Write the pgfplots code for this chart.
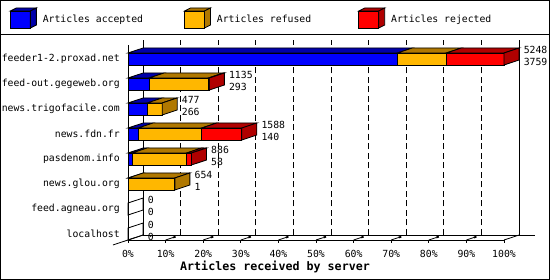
\documentclass[border=0pt]{standalone}
\usepackage{fontspec}
\setmainfont{DejaVu Sans Mono}
\usepackage{pgfplots}
\pgfplotsset{compat=1.18}

\definecolor{fb}{RGB}{0,0,255}\definecolor{db}{RGB}{0,0,170}
\definecolor{fo}{RGB}{255,183,0}\definecolor{do}{RGB}{176,120,0}
\definecolor{fr}{RGB}{255,0,0}\definecolor{dr}{RGB}{176,0,0}

\newcommand\sm{\fontsize{9.8pt}{12pt}\selectfont}
\newcommand\dep{209.92}

% front face + top face of one stacked segment: y, start, length, front colour, dark colour
\newcommand\face[5]{%
 \pgfmathsetmacro\ya{#1-0.24}\pgfmathsetmacro\yb{#1+0.24}\pgfmathsetmacro\yc{#1+0.44}%
 \pgfmathsetmacro\xa{#2}\pgfmathsetmacro\xb{#2+#3}%
 \pgfmathsetmacro\xc{#2+\dep}\pgfmathsetmacro\xd{#2+#3+\dep}%
 \addplot[fill=#4, draw=black] coordinates {(\xa,\ya) (\xb,\ya) (\xb,\yb) (\xa,\yb)} -- cycle;
 \addplot[fill=#5, draw=black] coordinates {(\xa,\yb) (\xb,\yb) (\xd,\yc) (\xc,\yc)} -- cycle;
}
% side face at the end of a bar: y, end, colour
\newcommand\side[3]{%
 \pgfmathsetmacro\ya{#1-0.24}\pgfmathsetmacro\yb{#1+0.24}\pgfmathsetmacro\yc{#1+0.44}\pgfmathsetmacro\yd{#1-0.04}%
 \pgfmathsetmacro\xb{#2}\pgfmathsetmacro\xd{#2+\dep}%
 \addplot[fill=#3, draw=black] coordinates {(\xb,\ya) (\xd,\yd) (\xd,\yc) (\xb,\yb)} -- cycle;
}
% y, accepted, refused, rejected, side colour
\newcommand\sbar[5]{%
 \pgfmathsetmacro\sa{#2}\pgfmathsetmacro\sb{#2+#3}\pgfmathsetmacro\sc{#2+#3+#4}%
 \face{#1}{0}{#2}{fb}{db}%
 \face{#1}{\sa}{#3}{fo}{do}%
 \face{#1}{\sb}{#4}{fr}{dr}%
 \side{#1}{\sc}{#5}%
}
% y, total, accepted
\newcommand\lbl[3]{%
 \node[font=\sm, anchor=west, inner sep=0pt] at (axis cs:{#2+\dep+63},{#1+0.36}) {#2};
 \node[font=\sm, anchor=west, inner sep=0pt] at (axis cs:{#2+\dep+63},{#1-0.1}) {#3};
}

\begin{document}
\begin{tikzpicture}
\begin{axis}[
  scale only axis, width=376pt, height=195pt,
  xmin=0, xmax=5248, ymin=-0.24, ymax=7.56,
  clip=false,
  axis x line*=bottom, axis y line*=left,
  x axis line style={-, line width=0.8pt}, y axis line style={-, line width=0.8pt},
  every axis plot/.append style={line width=0.8pt},
  xtick={0,524.8,1049.6,1574.4,2099.2,2624,3148.8,3673.6,4198.4,4723.2,5248},
  xticklabels={0\%,10\%,20\%,30\%,40\%,50\%,60\%,70\%,80\%,90\%,100\%},
  tick align=outside, major tick length=3pt,
  xtick style={black, line width=0.8pt},
  xticklabel style={font=\sm, inner sep=0pt, anchor=north, yshift=-7pt},
  ytick={0,1,2,3,4,5,6,7},
  yticklabels={localhost,feed.agneau.org,news.glou.org,pasdenom.info,news.fdn.fr,news.trigofacile.com,feed-out.gegeweb.org,feeder1-2.proxad.net},
  ytick style={draw=none},
  yticklabel style={font=\sm, inner sep=0pt, xshift=-5pt},
  xlabel={Articles received by server},
  xlabel style={at={(axis description cs:0.391,-0.1385)}, anchor=center,
    font=\fontsize{11.67pt}{14pt}\selectfont\bfseries, inner sep=0pt},
  legend style={at={(-0.31383,1.1385)}, anchor=west, draw=none, fill=none,
    inner sep=0pt, outer sep=0pt, legend columns=3,
    nodes={inner sep=0pt, font=\sm},
    /tikz/column 1/.style={column sep=6pt},
    /tikz/column 2/.style={column sep=41pt},
    /tikz/column 3/.style={column sep=6pt},
    /tikz/column 4/.style={column sep=47pt},
    /tikz/column 5/.style={column sep=6pt}},
  legend cell align=left,
]
\addlegendimage{legend image code/.code={
  \draw[fill=fb, line width=0.8pt] (0pt,-8.5pt) rectangle (20pt,8.5pt);
  \draw[fill=db, line width=0.8pt] (0pt,8.5pt) -- (6pt,11.5pt) -- (26pt,11.5pt) -- (20pt,8.5pt) -- cycle;
  \draw[fill=db, line width=0.8pt] (20pt,-8.5pt) -- (26pt,-5.5pt) -- (26pt,11.5pt) -- (20pt,8.5pt) -- cycle;}}
\addlegendentry{Articles accepted}
\addlegendimage{legend image code/.code={
  \draw[fill=fo, line width=0.8pt] (0pt,-8.5pt) rectangle (20pt,8.5pt);
  \draw[fill=do, line width=0.8pt] (0pt,8.5pt) -- (6pt,11.5pt) -- (26pt,11.5pt) -- (20pt,8.5pt) -- cycle;
  \draw[fill=do, line width=0.8pt] (20pt,-8.5pt) -- (26pt,-5.5pt) -- (26pt,11.5pt) -- (20pt,8.5pt) -- cycle;}}
\addlegendentry{Articles refused}
\addlegendimage{legend image code/.code={
  \draw[fill=fr, line width=0.8pt] (0pt,-8.5pt) rectangle (20pt,8.5pt);
  \draw[fill=dr, line width=0.8pt] (0pt,8.5pt) -- (6pt,11.5pt) -- (26pt,11.5pt) -- (20pt,8.5pt) -- cycle;
  \draw[fill=dr, line width=0.8pt] (20pt,-8.5pt) -- (26pt,-5.5pt) -- (26pt,11.5pt) -- (20pt,8.5pt) -- cycle;}}
\addlegendentry{Articles rejected}

% back wall and floor
\addplot[black] coordinates {(209.92,-0.04) (209.92,7.76)};
\addplot[black] coordinates {(5457.92,-0.04) (5457.92,7.76)};
\addplot[black] coordinates {(209.92,-0.04) (5680,-0.04)};
\addplot[black] coordinates {(-209.92,-0.44) (209.92,-0.04)};
\addplot[black] coordinates {(5248,-0.24) (5457.92,-0.04)};
% dashed grid on the back wall
\addplot[black, dash pattern=on 6pt off 3.5pt, quiver={u=0, v=7.8}] coordinates {
 (734.72,-0.04) (1259.52,-0.04) (1784.32,-0.04) (2309.12,-0.04) (2833.92,-0.04)
 (3358.72,-0.04) (3883.52,-0.04) (4408.32,-0.04) (4933.12,-0.04)};
% 3d tick marks on the floor
\addplot[black, quiver={u=105, v=0.1}] coordinates {
 (524.8,-0.24) (1049.6,-0.24) (1574.4,-0.24) (2099.2,-0.24) (2624,-0.24)
 (3148.8,-0.24) (3673.6,-0.24) (4198.4,-0.24) (4723.2,-0.24)};
\addplot[black, line width=1.8pt, quiver={u=35, v=0.033}] coordinates {
 (629.8,-0.14) (1154.6,-0.14) (1679.4,-0.14) (2204.2,-0.14) (2729,-0.14)
 (3253.8,-0.14) (3778.6,-0.14) (4303.4,-0.14) (4828.2,-0.14)};

% bars: y, accepted, refused, rejected
\sbar{7}{3759}{683}{806}{dr}
\sbar{6}{293}{828}{14}{dr}
\sbar{5}{266}{211}{0}{do}
\sbar{4}{140}{889}{559}{dr}
\sbar{3}{58}{761}{67}{dr}
\sbar{2}{1}{653}{0}{do}
\side{1}{0}{none}
\side{0}{0}{none}

\lbl{7}{5248}{3759}
\lbl{6}{1135}{293}
\lbl{5}{477}{266}
\lbl{4}{1588}{140}
\lbl{3}{886}{58}
\lbl{2}{654}{1}
\lbl{1}{0}{0}
\lbl{0}{0}{0}

\draw[line width=1pt] (rel axis cs:-0.33910,-0.20256) rectangle (rel axis cs:1.12101,1.22821);
\draw[line width=1pt] (rel axis cs:-0.340426,1.05128) -- (rel axis cs:1.122340,1.05128);
\coordinate (bbsw) at (rel axis cs:-0.340426,-0.205128);
\coordinate (bbne) at (rel axis cs:1.122340,1.230769);
\end{axis}
\pgfresetboundingbox
\path[use as bounding box] (bbsw) rectangle (bbne);
\end{tikzpicture}
\end{document}
